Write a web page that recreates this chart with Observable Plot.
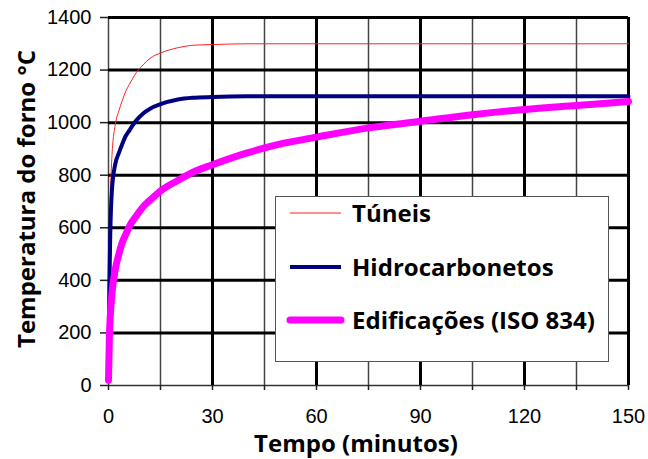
<!DOCTYPE html>
<html>
<head>
<meta charset="utf-8">
<script src="https://cdn.jsdelivr.net/npm/d3@7"></script>
<script src="https://cdn.jsdelivr.net/npm/@observablehq/plot@0.6"></script>
<style>
  html, body { margin: 0; padding: 0; background: #fff; }
  #chart svg { display: block; }
</style>
</head>
<body>
<div id="chart"></div>
<script>
// Fire curves: furnace temperature (°C) against time (minutes)
const minutes = [0, 0.25, 0.5, 1, 2, 3, 4, 5, 6, 8, 10, 12, 15, 20, 25, 30, 40, 50, 60, 75, 90, 105, 120, 135, 150];
const tuneis = [20, 440, 670, 875, 995, 1045, 1085, 1120, 1145, 1190, 1220, 1245, 1265, 1285, 1295, 1297, 1300, 1300, 1300, 1300, 1300, 1300, 1300, 1300, 1300];
const hidrocarbonetos = [20, 375, 570, 745, 845, 885, 920, 950, 970, 1008, 1035, 1053, 1070, 1088, 1095, 1098, 1100, 1100, 1100, 1100, 1100, 1100, 1100, 1100, 1100];
const edificacoes = [20, 185, 260, 350, 445, 500, 545, 575, 605, 645, 680, 705, 740, 780, 815, 840, 885, 920, 945, 980, 1005, 1030, 1050, 1065, 1080];

const seriesNames = ["Túneis", "Hidrocarbonetos", "Edificações (ISO 834)"];
const seriesColors = ["#ff2020", "#000080", "#ff00ff"];
const seriesWidths = [1, 4, 7];

const xTicks = [0, 15, 30, 45, 60, 75, 90, 105, 120, 135, 150];
const xMajor = [30, 60, 90, 120, 150];
const xMinor = [0, 15, 45, 75, 105, 135];
const yTicks = [0, 200, 400, 600, 800, 1000, 1200, 1400];
const yGrid = [200, 400, 600, 800, 1000, 1200, 1400];

const xTitle = "Tempo (minutos)";
const yTitle = "Temperatura do forno °C";

const toRows = (values) => minutes.map((t, i) => ({t, v: values[i]}));
const rows = [tuneis, hidrocarbonetos, edificacoes].map(toRows);

const chart = Plot.plot({
  width: 648,
  height: 459,
  marginLeft: 108,
  marginRight: 20,
  marginTop: 17,
  marginBottom: 74,
  x: {domain: [0, 150]},
  y: {domain: [0, 1400]},
  style: {fontFamily: "'Liberation Sans', Arial, sans-serif", fontSize: "20px", color: "#000", background: "#fff"},
  marks: [
    Plot.ruleX(xMinor, {stroke: "#444", strokeWidth: 1.5}),
    Plot.ruleY([0], {stroke: "#333", strokeWidth: 1.5}),
    Plot.ruleY(yGrid, {stroke: "#000", strokeWidth: 3}),
    Plot.ruleX(xMajor, {stroke: "#000", strokeWidth: 3}),
    Plot.axisY({ticks: yTicks, tickSize: 8, tickPadding: 9, label: null, strokeWidth: 1.5, stroke: "#222",
      tickFormat: d => String(d)}),
    Plot.axisX({ticks: xTicks, tickSize: 5, tickPadding: 18, label: null, strokeWidth: 1.5, stroke: "#222",
      tickFormat: d => d % 30 === 0 ? String(d) : ""}),
    ...rows.map((data, i) => Plot.line(data, {
      x: "t", y: "v", curve: "monotone-x",
      stroke: seriesColors[i], strokeWidth: seriesWidths[i],
      strokeLinecap: "round", strokeLinejoin: "round"
    }))
  ]
});

document.getElementById("chart").appendChild(chart);

// Titles and legend box drawn on top of the plot
const svg = d3.select(chart);
const titleFont = "'Open Sans', Lato, sans-serif";

svg.append("text")
  .attr("x", 356).attr("y", 452)
  .attr("text-anchor", "middle")
  .attr("font-family", titleFont).attr("font-weight", "bold").attr("font-size", 24)
  .attr("fill", "#000")
  .text(xTitle);

svg.append("text")
  .attr("transform", "translate(35,199) rotate(-90)")
  .attr("text-anchor", "middle")
  .attr("font-family", titleFont).attr("font-weight", "bold").attr("font-size", 24)
  .attr("fill", "#000")
  .text(yTitle);

const legend = svg.append("g");
legend.append("rect")
  .attr("x", 275.5).attr("y", 196.5).attr("width", 333).attr("height", 165)
  .attr("fill", "#fff").attr("stroke", "#555").attr("stroke-width", 1);

const legendY = [213, 267, 320];
seriesNames.forEach((name, i) => {
  legend.append("line")
    .attr("x1", 290).attr("x2", 341)
    .attr("y1", legendY[i]).attr("y2", legendY[i])
    .attr("stroke", seriesColors[i]).attr("stroke-width", seriesWidths[i])
    .attr("stroke-linecap", i === 2 ? "round" : "butt");
  legend.append("text")
    .attr("x", 352).attr("y", legendY[i]).attr("dy", "0.36em")
    .attr("text-anchor", "start")
    .attr("font-family", titleFont).attr("font-weight", "bold").attr("font-size", 24)
    .attr("fill", "#000")
    .text(name);
});
</script>
</body>
</html>
